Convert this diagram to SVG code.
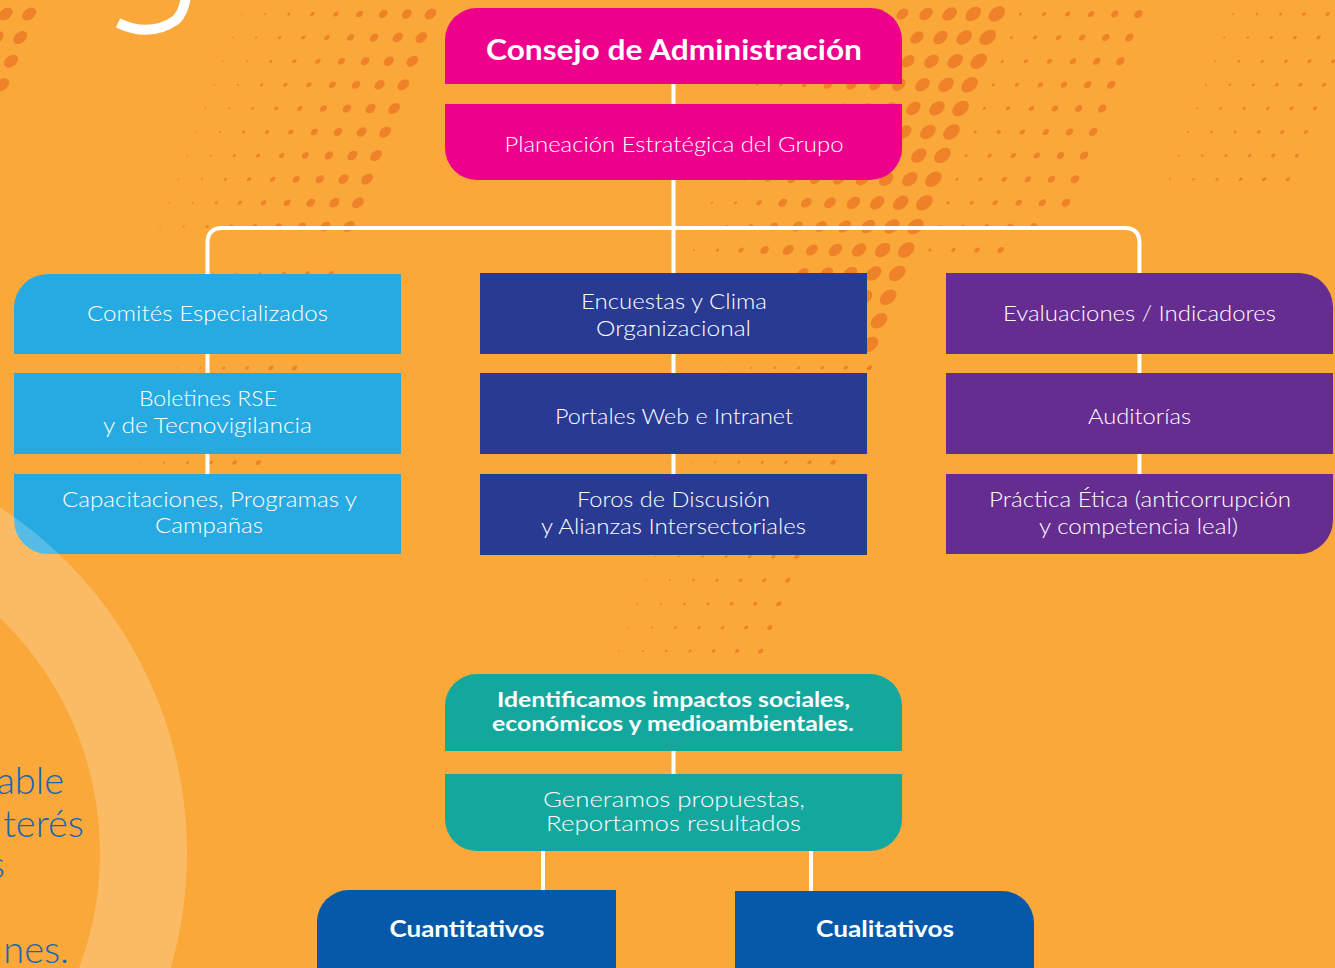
<svg xmlns="http://www.w3.org/2000/svg" width="1335" height="968" viewBox="0 0 1335 968">
<style>
.lt{font-family:Lato,"Open Sans","Liberation Sans",sans-serif;font-weight:300;fill:#fff;text-anchor:middle;font-size:22px}
.bd{font-family:Lato,"Open Sans","Liberation Sans",sans-serif;font-weight:700;fill:#fff;text-anchor:middle}
.side{font-family:Lato,"Open Sans","Liberation Sans",sans-serif;font-weight:300;fill:#1A64B4;text-anchor:end;font-size:38px}
.con{fill:none;stroke:#fff;stroke-width:4}
.dots line{stroke-linecap:round;stroke-dasharray:0 23.6}
</style>
<rect width="1335" height="968" fill="#FAA83A"/>
<g class="dots" transform="skewX(-21)" stroke="#EF8129" fill="none">
  <line x1="11" y1="14" x2="11" y2="60" stroke-width="13"/>
  <line x1="34.6" y1="14" x2="34.6" y2="110" stroke-width="13"/>
  <line x1="247" y1="14" x2="247" y2="250" stroke-width="1.5"/>
  <line x1="270.6" y1="14" x2="270.6" y2="250" stroke-width="2"/>
  <line x1="294.2" y1="14" x2="294.2" y2="250" stroke-width="3"/>
  <line x1="317.8" y1="14" x2="317.8" y2="250" stroke-width="4"/>
  <line x1="341.4" y1="14" x2="341.4" y2="250" stroke-width="5"/>
  <line x1="365" y1="14" x2="365" y2="250" stroke-width="6.5"/>
  <line x1="388.6" y1="14" x2="388.6" y2="250" stroke-width="8"/>
  <line x1="412.2" y1="14" x2="412.2" y2="250" stroke-width="9.5"/>
  <line x1="435.8" y1="14" x2="435.8" y2="250" stroke-width="11"/>
  <line x1="317.8" y1="273.6" x2="317.8" y2="470" stroke-width="1.5"/>
  <line x1="341.4" y1="273.6" x2="341.4" y2="470" stroke-width="2"/>
  <line x1="365" y1="273.6" x2="365" y2="470" stroke-width="3"/>
  <line x1="388.6" y1="273.6" x2="388.6" y2="470" stroke-width="3.5"/>
  <line x1="412.2" y1="273.6" x2="412.2" y2="470" stroke-width="4.5"/>
  <line x1="435.8" y1="273.6" x2="435.8" y2="470" stroke-width="5"/>
  <line x1="789.8" y1="14" x2="789.8" y2="262" stroke-width="2"/>
  <line x1="813.4" y1="14" x2="813.4" y2="262" stroke-width="3"/>
  <line x1="837" y1="14" x2="837" y2="262" stroke-width="5"/>
  <line x1="860.6" y1="14" x2="860.6" y2="262" stroke-width="8"/>
  <line x1="884.2" y1="14" x2="884.2" y2="262" stroke-width="10"/>
  <line x1="907.8" y1="14" x2="907.8" y2="300" stroke-width="11"/>
  <line x1="931.4" y1="14" x2="931.4" y2="320" stroke-width="12.5"/>
  <line x1="955" y1="14" x2="955" y2="340" stroke-width="13.5"/>
  <line x1="978.6" y1="14" x2="978.6" y2="345" stroke-width="14.5"/>
  <line x1="1002.2" y1="14" x2="1002.2" y2="350" stroke-width="15.5"/>
  <line x1="1025.8" y1="14" x2="1025.8" y2="262" stroke-width="3"/>
  <line x1="1049.4" y1="14" x2="1049.4" y2="262" stroke-width="4"/>
  <line x1="1073" y1="14" x2="1073" y2="262" stroke-width="5"/>
  <line x1="1096.6" y1="14" x2="1096.6" y2="262" stroke-width="6"/>
  <line x1="1120.2" y1="14" x2="1120.2" y2="240" stroke-width="7"/>
  <line x1="1143.8" y1="14" x2="1143.8" y2="220" stroke-width="8"/>
  <line x1="1238.6" y1="14" x2="1238.6" y2="200" stroke-width="2"/>
  <line x1="1262.2" y1="14" x2="1262.2" y2="200" stroke-width="2.5"/>
  <line x1="1285.8" y1="14" x2="1285.8" y2="200" stroke-width="3"/>
  <line x1="1309.4" y1="14" x2="1309.4" y2="200" stroke-width="3.5"/>
  <line x1="1333" y1="14" x2="1333" y2="200" stroke-width="4"/>
  <line x1="1356.6" y1="14" x2="1356.6" y2="200" stroke-width="4"/>
  <line x1="845.4" y1="367.8" x2="845.4" y2="470" stroke-width="1.2"/>
  <line x1="869" y1="367.8" x2="869" y2="660" stroke-width="1.5"/>
  <line x1="892.6" y1="367.8" x2="892.6" y2="660" stroke-width="2"/>
  <line x1="916.2" y1="367.8" x2="916.2" y2="660" stroke-width="2.5"/>
  <line x1="939.8" y1="367.8" x2="939.8" y2="660" stroke-width="3"/>
  <line x1="963.4" y1="367.8" x2="963.4" y2="660" stroke-width="3.5"/>
  <line x1="987" y1="367.8" x2="987" y2="660" stroke-width="4"/>
  <line x1="1010.6" y1="367.8" x2="1010.6" y2="660" stroke-width="5"/>
</g>
<path d="M118,23 Q150,38 176,20 Q184,12 186,-4" fill="none" stroke="#fff" stroke-width="10"/>
<g id="connectors">
  <path class="con" d="M673.5,84 V274"/>
  <path class="con" d="M207.5,274 V243 Q207.5,228 222.5,228 H1124.5 Q1139.5,228 1139.5,243 V274"/>
  <path class="con" d="M207.5,353 V474"/>
  <path class="con" d="M673.5,353 V474"/>
  <path class="con" d="M1139.5,353 V474"/>
  <path class="con" d="M673.5,750 V775"/>
  <path class="con" d="M543,851 V891"/>
  <path class="con" d="M811,851 V891"/>
</g>
<g id="consejo">
  <path d="M445,84 V40 A32,32 0 0 1 477,8 H870 A32,32 0 0 1 902,40 V84 Z" fill="#EC008C"/>
  <text class="bd" x="674" y="60" font-size="29" textLength="376" lengthAdjust="spacingAndGlyphs">Consejo de Administración</text>
</g>
<g id="planeacion">
  <path d="M445,104 H902 V148 A32,32 0 0 1 870,180 H477 A32,32 0 0 1 445,148 Z" fill="#EC008C"/>
  <text class="lt" x="674" y="152" font-size="21" textLength="339" lengthAdjust="spacingAndGlyphs">Planeación Estratégica del Grupo</text>
</g>
<g id="comites">
  <path d="M14,354 V308 A34,34 0 0 1 48,274 H401 V354 Z" fill="#27AAE1"/>
  <text class="lt" x="207.5" y="321" textLength="241" lengthAdjust="spacingAndGlyphs">Comités Especializados</text>
</g>
<g id="boletines">
  <rect x="14" y="373" width="387" height="81" fill="#27AAE1"/>
  <text class="lt" x="208" y="406" textLength="138" lengthAdjust="spacingAndGlyphs">Boletines RSE</text>
  <text class="lt" x="207.5" y="433" textLength="209" lengthAdjust="spacingAndGlyphs">y de Tecnovigilancia</text>
</g>
<g id="capacitaciones">
  <path d="M14,474 H401 V554 H48 A34,34 0 0 1 14,520 Z" fill="#27AAE1"/>
  <text class="lt" x="209.5" y="507" textLength="295" lengthAdjust="spacingAndGlyphs">Capacitaciones, Programas y</text>
  <text class="lt" x="209" y="533" textLength="108" lengthAdjust="spacingAndGlyphs">Campañas</text>
</g>
<g id="encuestas">
  <rect x="480" y="273" width="387" height="81" fill="#283A92"/>
  <text class="lt" x="674" y="309" textLength="186" lengthAdjust="spacingAndGlyphs">Encuestas y Clima</text>
  <text class="lt" x="673.5" y="336" textLength="155" lengthAdjust="spacingAndGlyphs">Organizacional</text>
</g>
<g id="portales">
  <rect x="480" y="373" width="387" height="81" fill="#283A92"/>
  <text class="lt" x="674" y="424" textLength="238" lengthAdjust="spacingAndGlyphs">Portales Web e Intranet</text>
</g>
<g id="foros">
  <rect x="480" y="474" width="387" height="81" fill="#283A92"/>
  <text class="lt" x="673.5" y="507" textLength="193" lengthAdjust="spacingAndGlyphs">Foros de Discusión</text>
  <text class="lt" x="673.5" y="534" textLength="265" lengthAdjust="spacingAndGlyphs">y Alianzas Intersectoriales</text>
</g>
<g id="evaluaciones">
  <path d="M946,273 H1299 A34,34 0 0 1 1333,307 V354 H946 Z" fill="#662D91"/>
  <text class="lt" x="1139.5" y="321" textLength="273" lengthAdjust="spacingAndGlyphs">Evaluaciones / Indicadores</text>
</g>
<g id="auditorias">
  <rect x="946" y="373" width="387" height="81" fill="#662D91"/>
  <text class="lt" x="1139.5" y="424" textLength="103" lengthAdjust="spacingAndGlyphs">Auditorías</text>
</g>
<g id="practica">
  <path d="M946,474 H1333 V520 A34,34 0 0 1 1299,554 H946 Z" fill="#662D91"/>
  <text class="lt" x="1140" y="507" textLength="302" lengthAdjust="spacingAndGlyphs">Práctica Ética (anticorrupción</text>
  <text class="lt" x="1138.5" y="534" textLength="199" lengthAdjust="spacingAndGlyphs">y competencia leal)</text>
</g>
<g id="identificamos">
  <path d="M445,751 V706 A32,32 0 0 1 477,674 H870 A32,32 0 0 1 902,706 V751 Z" fill="#13A89E"/>
  <text class="bd" x="673.5" y="707" font-size="20" textLength="353" lengthAdjust="spacingAndGlyphs">Identificamos impactos sociales,</text>
  <text class="bd" x="673" y="731" font-size="20" textLength="362" lengthAdjust="spacingAndGlyphs">económicos y medioambientales.</text>
</g>
<g id="generamos">
  <path d="M445,774 H902 V819 A32,32 0 0 1 870,851 H477 A32,32 0 0 1 445,819 Z" fill="#13A89E"/>
  <text class="lt" x="674" y="807" font-size="20" textLength="262" lengthAdjust="spacingAndGlyphs">Generamos propuestas,</text>
  <text class="lt" x="673.5" y="831" font-size="20" textLength="255" lengthAdjust="spacingAndGlyphs">Reportamos resultados</text>
</g>
<g id="cuantitativos">
  <path d="M317,968 V922 A32,32 0 0 1 349,890 H616 V968 Z" fill="#0659A9"/>
  <text class="bd" x="467" y="937" font-size="22" textLength="155" lengthAdjust="spacingAndGlyphs">Cuantitativos</text>
</g>
<g id="cualitativos">
  <path d="M735,968 V891 H1002 A32,32 0 0 1 1034,923 V968 Z" fill="#0659A9"/>
  <text class="bd" x="885" y="937" font-size="22" textLength="138" lengthAdjust="spacingAndGlyphs">Cualitativos</text>
</g>
<circle cx="-226" cy="853" r="369.5" fill="none" stroke="#fff" stroke-opacity="0.22" stroke-width="87"/>
<text class="side" x="64" y="794">able</text>
<text class="side" x="84" y="837">terés</text>
<text class="side" x="5" y="878">s</text>
<text class="side" x="69" y="963">nes.</text>
</svg>
